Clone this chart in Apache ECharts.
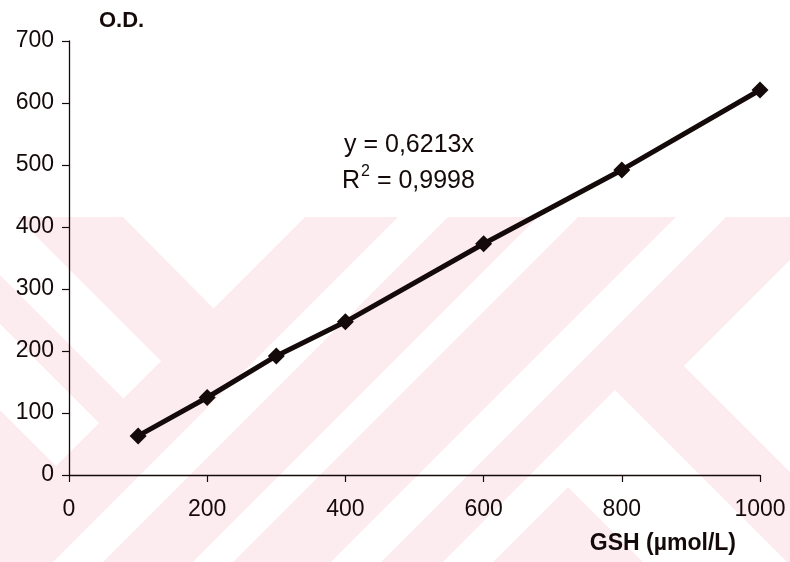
<!DOCTYPE html>
<html>
<head>
<meta charset="utf-8">
<script src="https://cdn.jsdelivr.net/npm/echarts@6/dist/echarts.min.js"></script>
<style>
html,body{margin:0;padding:0;background:#fff;}
#chart{width:790px;height:562px;}
</style>
</head>
<body>
<div id="chart"></div>
<script>
// ---- data ----
var gshValues = [100, 200, 300, 400, 600, 800, 1000];
var odValues = [63, 125, 192, 247, 373, 492, 621];
var xTicks = [0, 200, 400, 600, 800, 1000];
var yTicks = [0, 100, 200, 300, 400, 500, 600, 700];
var equationText = 'y = 0,6213x';
var r2Base = 'R';
var r2Sup = '2';
var r2Rest = ' = 0,9998';
var xTitle = 'GSH (\u00B5mol/L)';
var yTitle = 'O.D.';

// watermark shapes (decorative background)
var pink = '#fdecef';
var whiteShapes = [
  [[123,217],[305,217],[213.5,308.5]],
  [[17,217],[0,217],[0,275],[123.5,398.5],[161,361]],
  [[0,324],[0,410],[56,466],[99,423]],
  [[398,217],[448,217],[103,562],[53,562]],
  [[538,217],[578,217],[233,562],[193,562]],
  [[676,217],[726,217],[381,562],[331,562]],
  [[684,366],[800,250],[800,482]],
  [[443,562],[615,390],[787,562],[643,562],[568,487],[493,562]]
];

var points = gshValues.map(function (x, i) { return [x, odValues[i]]; });
var ink = '#140a0a';
var font = '"Liberation Sans", Arial, sans-serif';

var graphics = [{
  type: 'rect', z: -10, silent: true,
  shape: {x: 0, y: 217, width: 790, height: 345},
  style: {fill: pink}
}];
whiteShapes.forEach(function (p) {
  graphics.push({type: 'polygon', z: -9, silent: true, shape: {points: p}, style: {fill: '#ffffff'}});
});
graphics.push({
  type: 'text', left: 344, top: 133, z: 10,
  style: {text: equationText, fill: ink, font: '25px ' + font}
});
graphics.push({
  type: 'text', left: 342, top: 164, z: 10,
  style: {
    text: '{a|' + r2Base + '}{s|' + r2Sup + '}{a|' + r2Rest + '}',
    fill: ink,
    rich: {
      a: {fontSize: 25, fontFamily: font, color: ink, lineHeight: 30, verticalAlign: 'bottom'},
      s: {fontSize: 16, fontFamily: font, color: ink, lineHeight: 30, verticalAlign: 'top', padding: [0, 0, 0, 1]}
    }
  }
});

var chart = echarts.init(document.getElementById('chart'), null, {renderer: 'canvas'});
chart.setOption({
  animation: false,
  backgroundColor: '#ffffff',
  graphic: graphics,
  grid: {left: 69, right: 30, top: 41, bottom: 87, containLabel: false},
  xAxis: {
    type: 'value', min: xTicks[0], max: xTicks[xTicks.length - 1], interval: 200,
    name: xTitle, nameLocation: 'end', nameGap: -24,
    nameTextStyle: {fontFamily: font, fontSize: 23, fontWeight: 'bold', color: ink,
      align: 'right', verticalAlign: 'top', padding: [57, 0, 0, 0]},
    axisLine: {show: true, lineStyle: {color: ink, width: 1.3}},
    axisTick: {show: true, inside: false, length: 7, lineStyle: {color: ink, width: 1.2}},
    axisLabel: {fontFamily: font, fontSize: 23, color: ink, margin: 23,
      formatter: function (v) { return String(v); }},
    splitLine: {show: false}
  },
  yAxis: {
    type: 'value', min: yTicks[0], max: yTicks[yTicks.length - 1], interval: 100,
    name: yTitle, nameLocation: 'end', nameGap: 9,
    nameTextStyle: {fontFamily: font, fontSize: 22, fontWeight: 'bold', color: ink,
      align: 'left', padding: [0, 0, 0, 30]},
    axisLine: {show: true, lineStyle: {color: ink, width: 1.3}},
    axisTick: {show: true, inside: false, length: 7, lineStyle: {color: ink, width: 1.2}},
    axisLabel: {fontFamily: font, fontSize: 23, color: ink, margin: 15,
      formatter: function (v) { return String(v); }},
    splitLine: {show: false}
  },
  series: [{
    type: 'line',
    data: points,
    symbol: 'diamond',
    symbolSize: 17,
    showSymbol: true,
    itemStyle: {color: ink},
    lineStyle: {color: ink, width: 5},
    z: 5
  }]
});
</script>
</body>
</html>
